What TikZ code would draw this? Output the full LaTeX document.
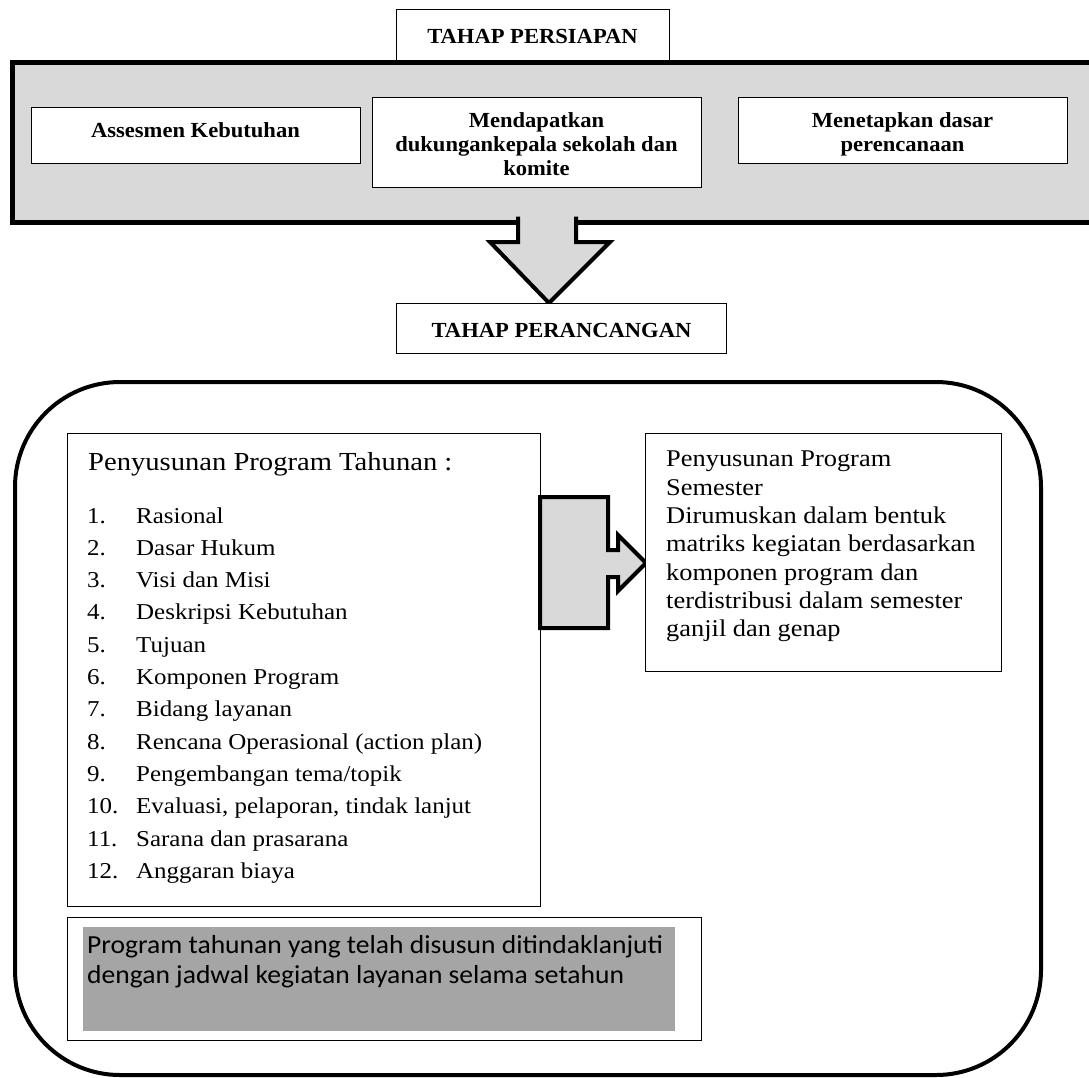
\documentclass[tikz,border=0pt]{standalone}
\usepackage{fontspec}
\setmainfont{Liberation Serif}
\newfontfamily\headfont[FakeStretch=1.05]{Liberation Serif}
\newfontfamily\listfont[FakeStretch=1.10]{Liberation Serif}
\newfontfamily\semfont[FakeStretch=1.10]{Liberation Serif}
\newfontfamily\calfont[FakeStretch=1.06]{Carlito}
\definecolor{lightg}{HTML}{D9D9D9}
\definecolor{darkg}{HTML}{A5A5A5}
\begin{document}
\begin{tikzpicture}[x=1pt,y=-1pt,
  thinbox/.style={draw=black, line width=0.9pt, fill=white, inner sep=0pt, anchor=north west},
  headtxt/.style={font=\headfont\bfseries\fontsize{21.5}{24}\selectfont, align=center, inner sep=0pt},
  titletxt/.style={font=\listfont\fontsize{26}{30}\selectfont, inner sep=0pt, anchor=base west},
  listtxt/.style={font=\listfont\fontsize{22.7}{30}\selectfont, inner sep=0pt, anchor=base west},
  semtxt/.style={font=\semfont\fontsize{24}{28.3}\selectfont, inner sep=0pt, align=left, anchor=north west},
  caltxt/.style={font=\calfont\fontsize{26}{30}\selectfont, inner sep=0pt, anchor=base west},
  thickshape/.style={draw=black, line width=4pt, fill=lightg}]
\useasboundingbox (0,0) rectangle (1089,1077);

% ---------- preparation stage ----------
\node[draw=black, line width=4.5pt, fill=lightg, inner sep=0pt, anchor=north west,
      minimum width=1090pt, minimum height=160pt] (band) at (10,60) {};
\node[thinbox, minimum width=273pt, minimum height=51pt] (persiapan) at (396,9) {};
\node[headtxt, anchor=base] (persiapanT) at (532.5,43) {TAHAP PERSIAPAN};

\node[thinbox, minimum width=329pt, minimum height=56pt] (assess) at (31,107) {};
\node[headtxt, anchor=base] (assessT) at (195.5,137) {Assesmen Kebutuhan};

\node[thinbox, minimum width=329pt, minimum height=90pt] (dukung) at (372,97) {};
\node[headtxt, anchor=north] (dukungT) at (536.5,112.5) {Mendapatkan\\dukungankepala sekolah dan\\komite};

\node[thinbox, minimum width=329pt, minimum height=66pt] (dasar) at (738,97) {};
\node[headtxt, anchor=north] (dasarT) at (902.5,112.5) {Menetapkan dasar\\perencanaan};

% down arrow
\filldraw[thickshape, line join=miter] (518,216.5) -- (518,242) -- (490,242) -- (549,303)
   -- (610,242) -- (576,242) -- (576,216.5);

\node[thinbox, minimum width=330pt, minimum height=50pt] (perancangan) at (396,303) {};
\node[headtxt, anchor=base] (perancanganT) at (561.5,337) {TAHAP PERANCANGAN};

% ---------- planning stage frame ----------
\draw[line width=4pt, rounded corners=105pt] (15,382) rectangle (1041,1075);

% annual program box
\node[thinbox, minimum width=473pt, minimum height=473pt] (tahunan) at (67,433) {};
\node[titletxt] (tahunanT) at (88,470) {Penyusunan Program Tahunan :};
\foreach \i/\t in {1/Rasional, 2/Dasar Hukum, 3/Visi dan Misi, 4/Deskripsi Kebutuhan,
  5/Tujuan, 6/Komponen Program, 7/Bidang layanan, 8/Rencana Operasional (action plan),
  9/Pengembangan tema\slash topik, 10/{Evaluasi, pelaporan, tindak lanjut},
  11/Sarana dan prasarana, 12/Anggaran biaya}{
  \node[listtxt] (item\i) at (87,{523+32.3*(\i-1)}) {\makebox[49pt][l]{\i.}\t};
}

% right arrow
\filldraw[thickshape, line join=miter] (540,497) -- (608,497) -- (608,550) -- (618,550)
  -- (618,535) -- (646,563) -- (618,591) -- (618,577) -- (608,577) -- (608,628)
  -- (540,628) -- cycle;

% semester box
\node[thinbox, minimum width=356pt, minimum height=238pt] (semester) at (645,433) {};
\node[semtxt] (semesterT) at (666,451) {Penyusunan Program\\Semester\\Dirumuskan dalam bentuk\\matriks kegiatan berdasarkan\\komponen program dan\\terdistribusi dalam semester\\ganjil dan genap};

% follow-up box
\node[thinbox, minimum width=634pt, minimum height=123pt] (lanjut) at (67,917) {};
\node[fill=darkg, inner sep=0pt, anchor=north west, minimum width=592pt, minimum height=104pt] (lanjutG) at (83,927) {};
\node[caltxt] (lanjut1) at (87,953) {Program tahunan yang telah disusun ditindaklanjuti};
\node[caltxt] (lanjut2) at (87,983) {dengan jadwal kegiatan layanan selama setahun};
\end{tikzpicture}
\end{document}
